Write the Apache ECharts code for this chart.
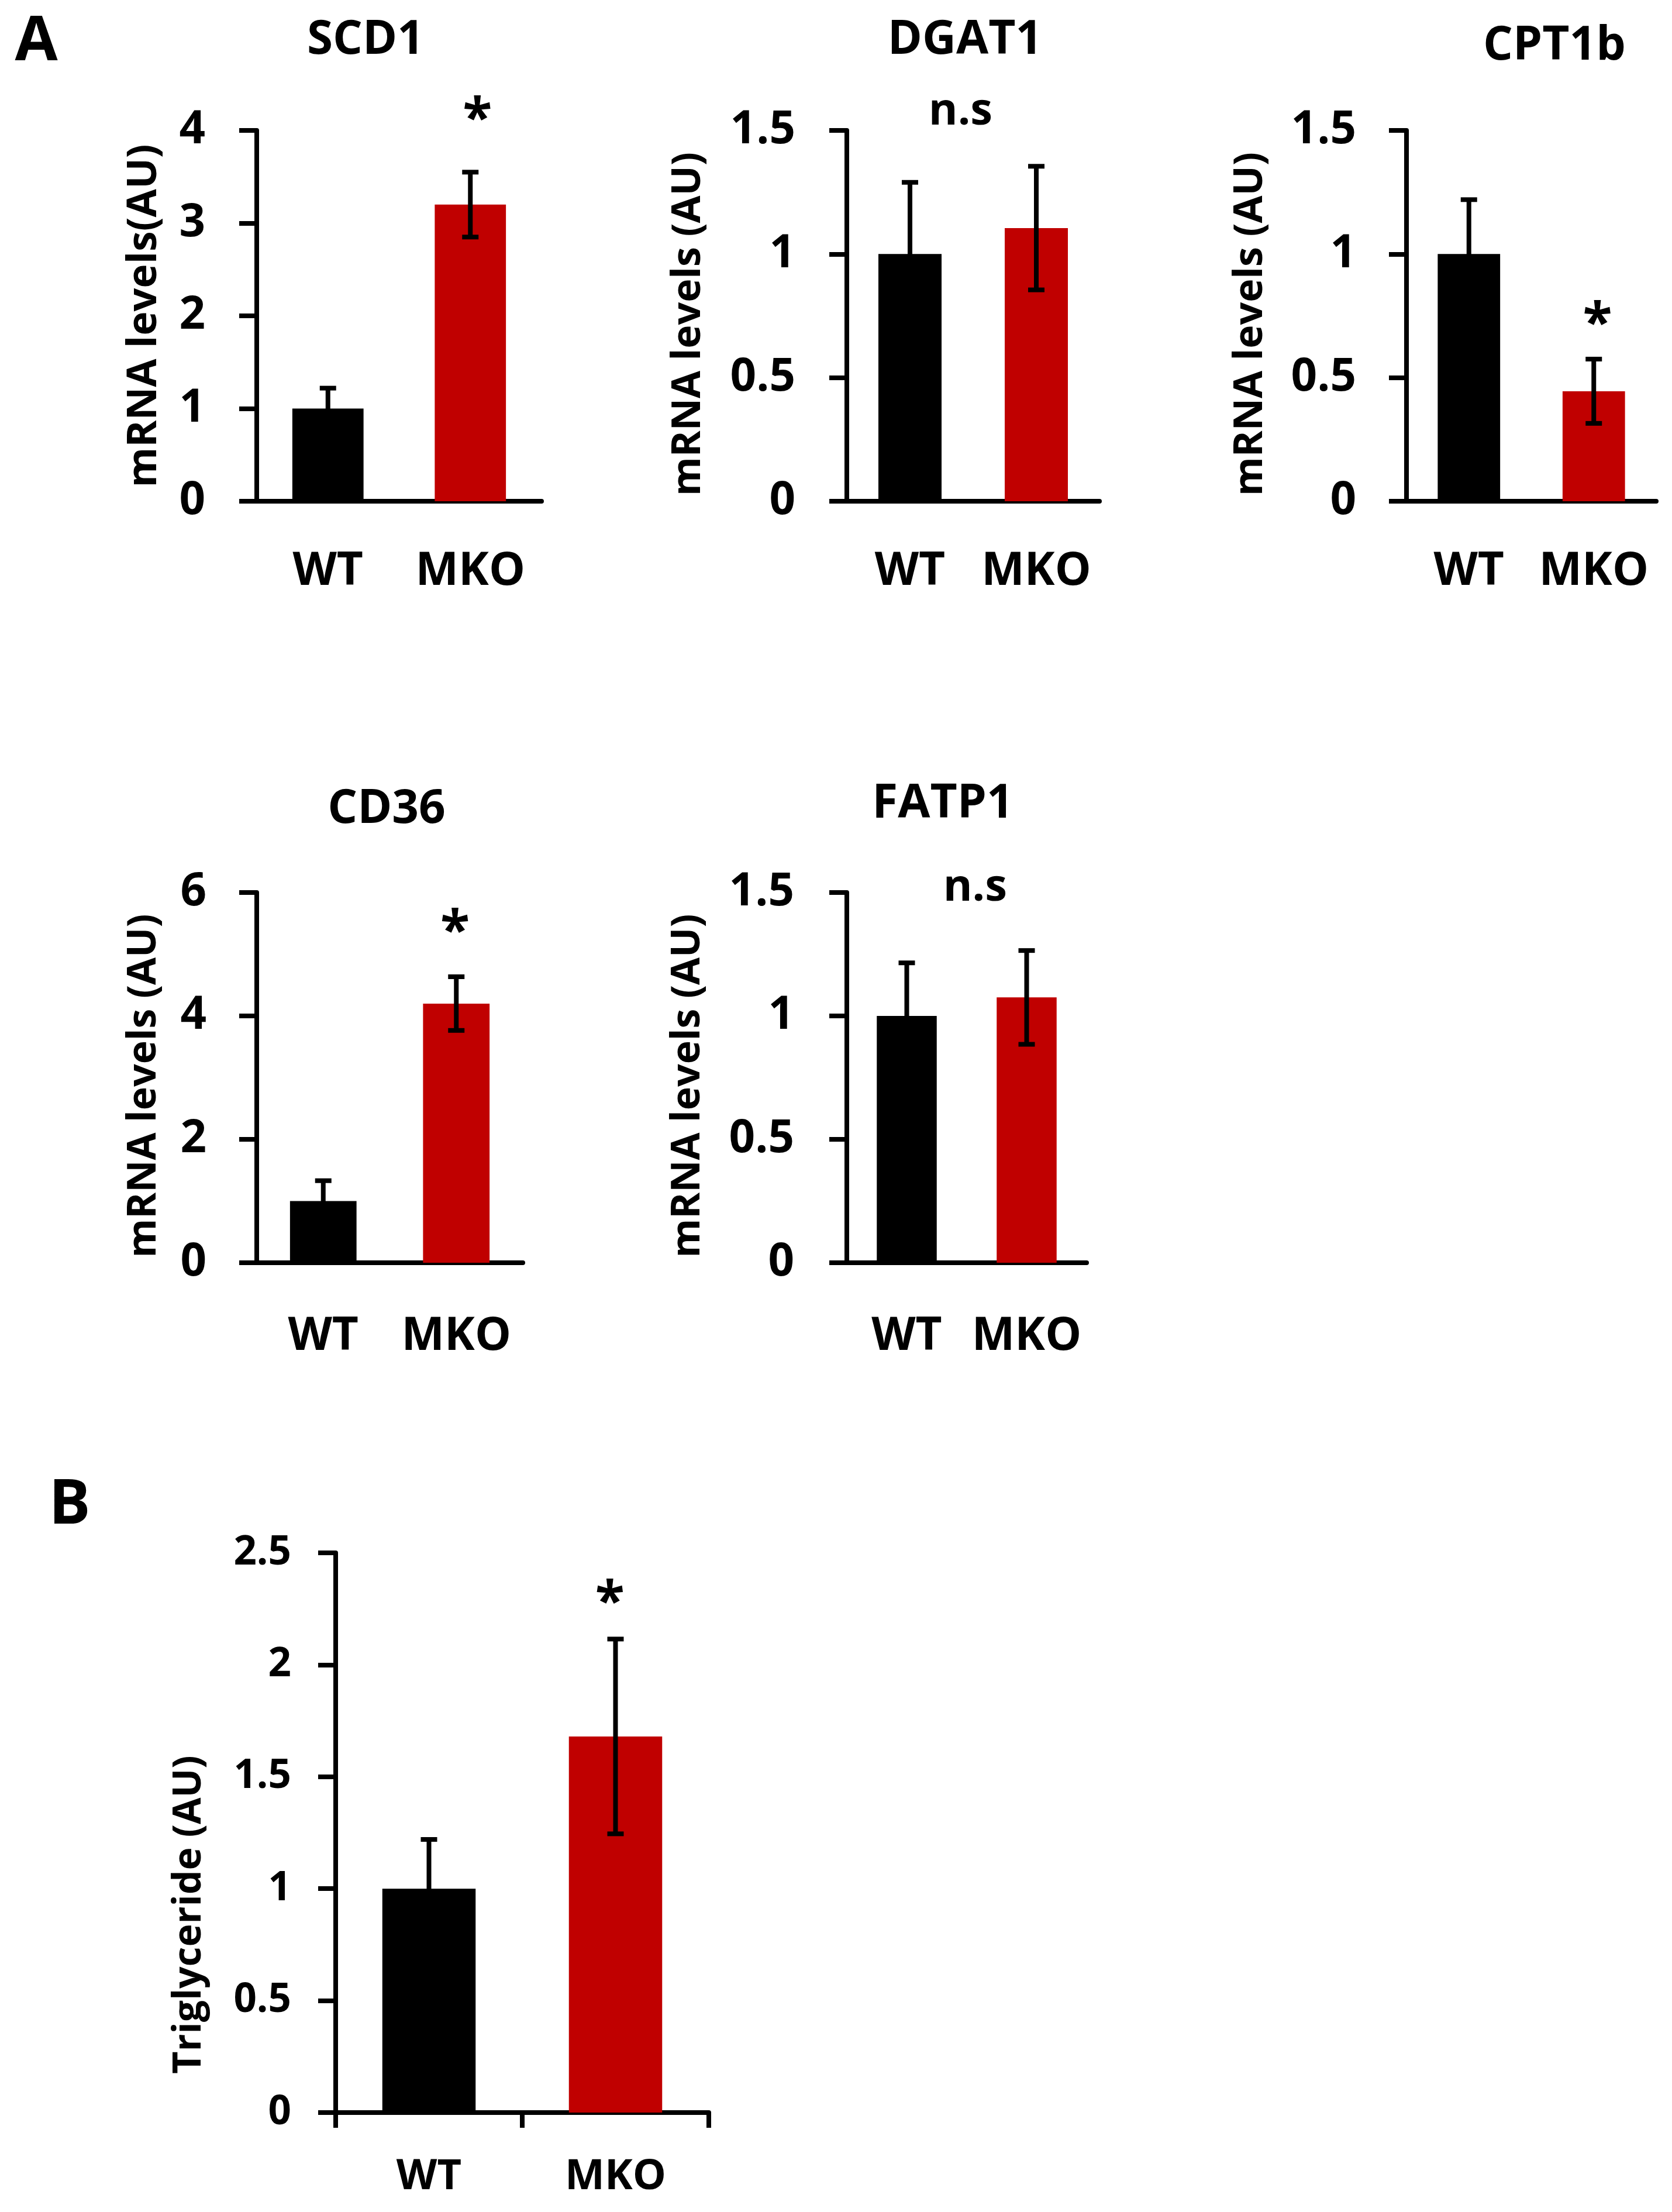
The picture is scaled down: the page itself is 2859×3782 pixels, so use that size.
<!DOCTYPE html>
<html>
<head>
<meta charset="utf-8">
<script src="https://cdn.jsdelivr.net/npm/echarts@6.0.0/dist/echarts.min.js"></script>
<style>
  html, body { margin: 0; padding: 0; background: #fff; }
  #main { width: 2859px; height: 3782px; }
</style>
</head>
<body>
<div id="main"></div>
<script>
// groups on every x axis
let groups = ['WT', 'MKO'];
let barColors = ['#000000', '#c00000'];

// means and error (SD)
let scd1Mean = [1.00, 3.20];
let scd1Err = [0.22, 0.35];
let dgat1Mean = [1.00, 1.105];
let dgat1Err = [0.29, 0.25];
let cpt1bMean = [1.00, 0.445];
let cpt1bErr = [0.22, 0.13];
let cd36Mean = [1.00, 4.20];
let cd36Err = [0.33, 0.435];
let fatp1Mean = [1.00, 1.075];
let fatp1Err = [0.215, 0.19];
let tgMean = [1.00, 1.68];
let tgErr = [0.22, 0.435];

// y axis ranges
let yMax = [4, 1.5, 1.5, 6, 1.5, 2.5];
let yStep = [1, 0.5, 0.5, 2, 0.5, 0.5];

// significance marks: text, position between the groups (0 = WT, 1 = MKO), height in axis units
let sigText = ['*', 'n.s', '*', '*', 'n.s', '*'];
let sigX = [1.05, 0.40, 1.03, 0.99, 0.57, 0.97];
let sigY = [4.10, 1.576, 0.71, 5.34, 1.517, 2.27];

let titles = ['SCD1', 'DGAT1', 'CPT1b', 'CD36', 'FATP1'];
let yNames = ['mRNA levels(AU)', 'mRNA levels (AU)', 'mRNA levels (AU)',
              'mRNA levels (AU)', 'mRNA levels (AU)', 'Triglyceride (AU)'];

let means = [scd1Mean, dgat1Mean, cpt1bMean, cd36Mean, fatp1Mean, tgMean];
let errs = [scd1Err, dgat1Err, cpt1bErr, cd36Err, fatp1Err, tgErr];

const FONT = 'Open Sans';

// panel layout (pixels)
let grids = [
    { left: 439, top: 223, width: 487, height: 634 },
    { left: 1448, top: 223, width: 432, height: 634 },
    { left: 2405, top: 223, width: 427, height: 634 },
    { left: 439, top: 1526, width: 455, height: 633 },
    { left: 1448, top: 1526, width: 410, height: 633 },
    { left: 574, top: 2655, width: 638, height: 957 }
];
let yLabelMargin = [88, 88, 86, 86, 90, 76];
let yNameGap = [157, 236, 232, 158, 237, 217];
let yNameShift = [0, 28, 28, 28, 28, 280];   // pushes the rotated name downwards
let xLabelMargin = [121, 121, 121, 127, 127, 110];
let tickFont = [78, 78, 78, 78, 78, 69];
let xFont = [78, 78, 78, 78, 78, 72];
let nameFont = [70, 68, 68, 68, 68, 66];

let myChart = echarts.init(document.getElementById('main'));

let black = { color: '#000', width: 8 };

let xAxis = [], yAxis = [], series = [];

grids.forEach((g, i) => {
    let isB = i === 5;
    xAxis.push({
        gridIndex: i,
        type: 'category',
        data: groups,
        axisLine: { show: true, lineStyle: black },
        axisTick: { show: isB, length: 26, lineStyle: black },
        axisLabel: {
            interval: 0,
            hideOverlap: false,
            color: '#000', fontFamily: FONT, fontWeight: 'bold',
            fontSize: xFont[i], margin: xLabelMargin[i], verticalAlign: 'middle'
        },
        splitLine: { show: false }
    });
    yAxis.push({
        gridIndex: i,
        type: 'value',
        min: 0,
        max: yMax[i],
        interval: yStep[i],
        axisLine: { show: true, lineStyle: black },
        axisTick: { show: true, length: 30, lineStyle: black },
        axisLabel: {
            color: '#000', fontFamily: FONT, fontWeight: 'bold',
            fontSize: tickFont[i], margin: yLabelMargin[i]
        },
        splitLine: { show: false },
        name: yNames[i],
        nameLocation: 'middle',
        nameRotate: 90,
        nameGap: yNameGap[i],
        nameMoveOverlap: false,
        nameTextStyle: {
            color: '#000', fontFamily: FONT, fontWeight: 'bold',
            fontSize: nameFont[i], padding: [0, yNameShift[i], 0, 0]
        }
    });

    // bars
    series.push({
        type: 'bar',
        xAxisIndex: i,
        yAxisIndex: i,
        barWidth: '50%',
        silent: true,
        data: means[i].map((v, k) => ({ value: v, itemStyle: { color: barColors[k] } }))
    });

    // error bars
    series.push({
        type: 'custom',
        xAxisIndex: i,
        yAxisIndex: i,
        z: 5,
        silent: true,
        encode: { x: 0, y: 1 },
        data: means[i].map((v, k) => [k, v, errs[i][k]]),
        renderItem: function (params, api) {
            let k = api.value(0), m = api.value(1), e = api.value(2);
            let hi = api.coord([k, m + e]);
            let lo = api.coord([k, m - e]);
            let half = 14;
            let st = { stroke: '#000', lineWidth: 8 };
            return {
                type: 'group',
                children: [
                    { type: 'line', shape: { x1: hi[0], y1: hi[1], x2: lo[0], y2: lo[1] }, style: st },
                    { type: 'line', shape: { x1: hi[0] - half, y1: hi[1], x2: hi[0] + half, y2: hi[1] }, style: st },
                    { type: 'line', shape: { x1: lo[0] - half, y1: lo[1], x2: lo[0] + half, y2: lo[1] }, style: st }
                ]
            };
        }
    });

    // significance mark
    series.push({
        type: 'custom',
        xAxisIndex: i,
        yAxisIndex: i,
        z: 6,
        silent: true,
        encode: { x: 0, y: 1 },
        data: [[1, sigY[i]]],
        renderItem: function (params, api) {
            let y = api.value(1);
            let p0 = api.coord([0, y]);
            let p1 = api.coord([1, y]);
            let x = p0[0] + sigX[i] * (p1[0] - p0[0]);
            let isStar = sigText[i] === '*';
            return {
                type: 'text',
                x: x,
                y: p0[1],
                style: {
                    text: sigText[i],
                    fill: '#000',
                    fontFamily: FONT,
                    fontWeight: 'bold',
                    fontSize: isStar ? 92 : 76,
                    align: 'center',
                    verticalAlign: 'middle',
                    textAlign: 'center',
                    textVerticalAlign: 'middle'
                }
            };
        }
    });
});

// panel titles and letters
let titlePos = [[625, 69], [1650, 69], [2658, 79], [661, 1384], [1612, 1375]];
let graphic = titles.map((t, i) => ({
    type: 'text',
    x: titlePos[i][0],
    y: titlePos[i][1],
    style: {
        text: t, fill: '#000', fontFamily: FONT, fontWeight: 'bold', fontSize: 80,
        align: 'center', verticalAlign: 'middle', textAlign: 'center', textVerticalAlign: 'middle'
    }
}));
[['A', 62, 73], ['B', 119, 2575]].forEach(l => {
    graphic.push({
        type: 'text',
        x: l[1],
        y: l[2],
        style: {
            text: l[0], fill: '#000', fontFamily: FONT, fontWeight: 'bold', fontSize: 106,
            align: 'center', verticalAlign: 'middle', textAlign: 'center', textVerticalAlign: 'middle'
        }
    });
});

let option = {
    animation: false,
    backgroundColor: '#ffffff',
    textStyle: { fontFamily: FONT, fontWeight: 'bold', color: '#000' },
    grid: grids,
    xAxis: xAxis,
    yAxis: yAxis,
    series: series,
    graphic: graphic
};

myChart.setOption(option);
</script>
</body>
</html>
